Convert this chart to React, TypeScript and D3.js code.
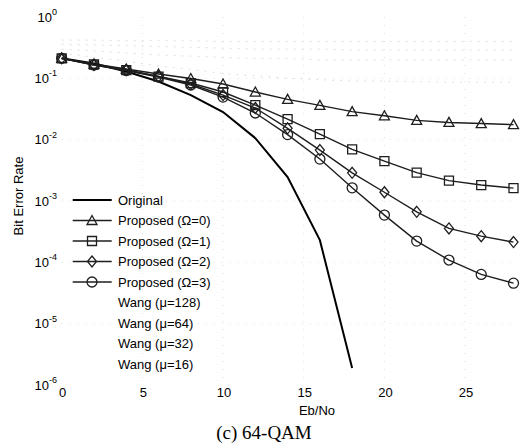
import React from 'react';
import * as d3 from 'd3';

// ---- data ----
const ebno = [0, 2, 4, 6, 8, 10, 12, 14, 16, 18, 20, 22, 24, 26, 28];
const ebnoOriginal = [0, 2, 4, 6, 8, 10, 12, 14, 16, 18];
const original = [0.212, 0.174, 0.129, 0.0887, 0.0534, 0.0282, 0.0106, 0.00245, 0.00023, 1.9e-6];
const proposed0 = [0.212, 0.171, 0.142, 0.1175, 0.0993, 0.0807, 0.0598, 0.0454, 0.0362, 0.0287, 0.0245, 0.0206, 0.0191, 0.0183, 0.0176];
const proposed1 = [0.212, 0.168, 0.1366, 0.107, 0.0838, 0.0598, 0.0367, 0.0217, 0.0123, 0.00695, 0.00448, 0.0029, 0.00215, 0.00182, 0.00162];
const proposed2 = [0.212, 0.165, 0.1366, 0.107, 0.0807, 0.0534, 0.0328, 0.0153, 0.00677, 0.00288, 0.00139, 0.000667, 0.000357, 0.000267, 0.000214];
const proposed3 = [0.212, 0.165, 0.134, 0.105, 0.0778, 0.0495, 0.0272, 0.0121, 0.00483, 0.00164, 0.000589, 0.000222, 0.000109, 0.0000635, 0.0000458];
// faint (barely visible in the scan)
const wang128 = [0.42, 0.42, 0.41, 0.41, 0.41, 0.40, 0.40, 0.40, 0.40, 0.40, 0.40, 0.40, 0.40, 0.40, 0.40];
const wang64 = [0.36, 0.35, 0.34, 0.33, 0.32, 0.31, 0.30, 0.30, 0.30, 0.29, 0.29, 0.29, 0.29, 0.29, 0.29];
const wang32 = [0.30, 0.28, 0.26, 0.24, 0.23, 0.22, 0.21, 0.21, 0.20, 0.20, 0.20, 0.20, 0.20, 0.20, 0.20];
const wang16 = [0.26, 0.22, 0.19, 0.16, 0.14, 0.12, 0.11, 0.10, 0.095, 0.09, 0.09, 0.088, 0.087, 0.087, 0.087];

const xTicks = [0, 5, 10, 15, 20, 25];
const yTickExps = [0, -1, -2, -3, -4, -5, -6];
const legendLabels = [
  'Original',
  'Proposed (\u03A9=0)',
  'Proposed (\u03A9=1)',
  'Proposed (\u03A9=2)',
  'Proposed (\u03A9=3)',
  'Wang (\u03BC=128)',
  'Wang (\u03BC=64)',
  'Wang (\u03BC=32)',
  'Wang (\u03BC=16)',
];
const xLabel = 'Eb/No';
const yLabel = 'Bit Error Rate';
const caption = '(c) 64-QAM';

const W = 522;
const H = 443;
const FONT = '"Liberation Sans", Arial, sans-serif';

const x = d3.scaleLinear().domain([0, 28]).range([61.7, 513.5]);
const y = d3.scaleLog().domain([1, 1e-6]).range([17, 385]);

type MarkerKind = 'triangle' | 'square' | 'diamond' | 'circle' | 'none';

function markerPath(kind: MarkerKind): string {
  switch (kind) {
    case 'triangle':
      return 'M0,-5L5,4L-5,4Z';
    case 'square':
      return 'M-4.5,-4.5H4.5V4.5H-4.5Z';
    case 'diamond':
      return 'M0,-5.5L4.5,0L0,5.5L-4.5,0Z';
    case 'circle':
      return 'M5,0A5,5 0 1,1 -5,0A5,5 0 1,1 5,0Z';
    default:
      return '';
  }
}

const series = [
  { xs: ebno, ys: proposed0, marker: 'triangle' as MarkerKind },
  { xs: ebno, ys: proposed1, marker: 'square' as MarkerKind },
  { xs: ebno, ys: proposed2, marker: 'diamond' as MarkerKind },
  { xs: ebno, ys: proposed3, marker: 'circle' as MarkerKind },
];
const faintSeries = [wang128, wang64, wang32, wang16];
const legendMarkers: MarkerKind[] = ['none', 'triangle', 'square', 'diamond', 'circle'];

export default function App() {
  const line = d3
    .line<[number, number]>()
    .x((d) => x(d[0]))
    .y((d) => y(d[1]));

  const pts = (xs: number[], ys: number[]) => xs.map((v, i) => [v, ys[i]] as [number, number]);

  const lineColor = '#1e1e1e';

  return (
    <svg
      width={W}
      height={H}
      viewBox={`0 0 ${W} ${H}`}
      style={{ position: 'absolute', left: 0, top: 0, background: '#fff' }}
      fontFamily={FONT}
    >
      <rect x={0} y={0} width={W} height={H} fill="#fff" />

      {/* faint dotted grid (remnants in scan) */}
      <g stroke="#dcdcdc" strokeWidth={1} strokeDasharray="1,7">
        {xTicks.slice(1).map((t) => (
          <line key={'gx' + t} x1={x(t)} x2={x(t)} y1={y(1)} y2={y(1e-6)} />
        ))}
        {yTickExps.slice(1, -1).map((e) => (
          <line key={'gy' + e} x1={x(0)} x2={x(28)} y1={y(Math.pow(10, e))} y2={y(Math.pow(10, e))} />
        ))}
      </g>

      {/* faint Wang series */}
      <g fill="none" stroke="#c8c8c8" strokeWidth={1} strokeDasharray="2,6" opacity={0.55}>
        {faintSeries.map((s, i) => (
          <path key={'w' + i} d={line(pts(ebno, s)) || ''} />
        ))}
      </g>

      {/* Original */}
      <path d={line(pts(ebnoOriginal, original)) || ''} fill="none" stroke="#000" strokeWidth={2} />

      {/* Proposed */}
      {series.map((s, i) => (
        <g key={'s' + i}>
          <path d={line(pts(s.xs, s.ys)) || ''} fill="none" stroke={lineColor} strokeWidth={1.4} />
          {s.xs.map((v, j) => (
            <path
              key={j}
              d={markerPath(s.marker)}
              transform={`translate(${x(v)},${y(s.ys[j])})`}
              fill="none"
              stroke={lineColor}
              strokeWidth={1.3}
            />
          ))}
        </g>
      ))}

      {/* y tick labels */}
      {yTickExps.map((e) => (
        <text key={'yt' + e} x={57} y={y(Math.pow(10, e)) + 4.6} textAnchor="end" fontSize={13} fill="#000">
          10
          <tspan dy={-6.5} fontSize={9}>
            {String(e)}
          </tspan>
        </text>
      ))}

      {/* x tick labels */}
      {xTicks.map((t) => (
        <text key={'xt' + t} x={x(t) + 1} y={397} textAnchor="middle" fontSize={13} fill="#000">
          {t}
        </text>
      ))}

      {/* axis labels */}
      <text x={317} y={415} textAnchor="middle" fontSize={13} fill="#000">
        {xLabel}
      </text>
      <text
        transform={`translate(22.5,196) rotate(-90)`}
        textAnchor="middle"
        fontSize={13}
        fill="#000"
      >
        {yLabel}
      </text>

      {/* caption */}
      <text x={264} y={439} textAnchor="middle" fontSize={19} fontFamily='"Liberation Serif", "Times New Roman", serif' fill="#000">
        {caption}
      </text>

      {/* legend */}
      {legendLabels.map((lab, i) => {
        const ly = 200 + i * 20.5;
        const mk = legendMarkers[i];
        return (
          <g key={'lg' + i}>
            {i === 0 && <line x1={72.7} x2={111.7} y1={ly} y2={ly} stroke="#000" strokeWidth={2} />}
            {i > 0 && i < 5 && (
              <g>
                <line x1={72.7} x2={111.7} y1={ly} y2={ly} stroke={lineColor} strokeWidth={1.4} />
                <path
                  d={markerPath(mk)}
                  transform={`translate(92,${ly})`}
                  fill="none"
                  stroke={lineColor}
                  strokeWidth={1.3}
                />
              </g>
            )}
            <text x={118} y={ly + 4.6} fontSize={13} fill="#000">
              {lab}
            </text>
          </g>
        );
      })}
    </svg>
  );
}
